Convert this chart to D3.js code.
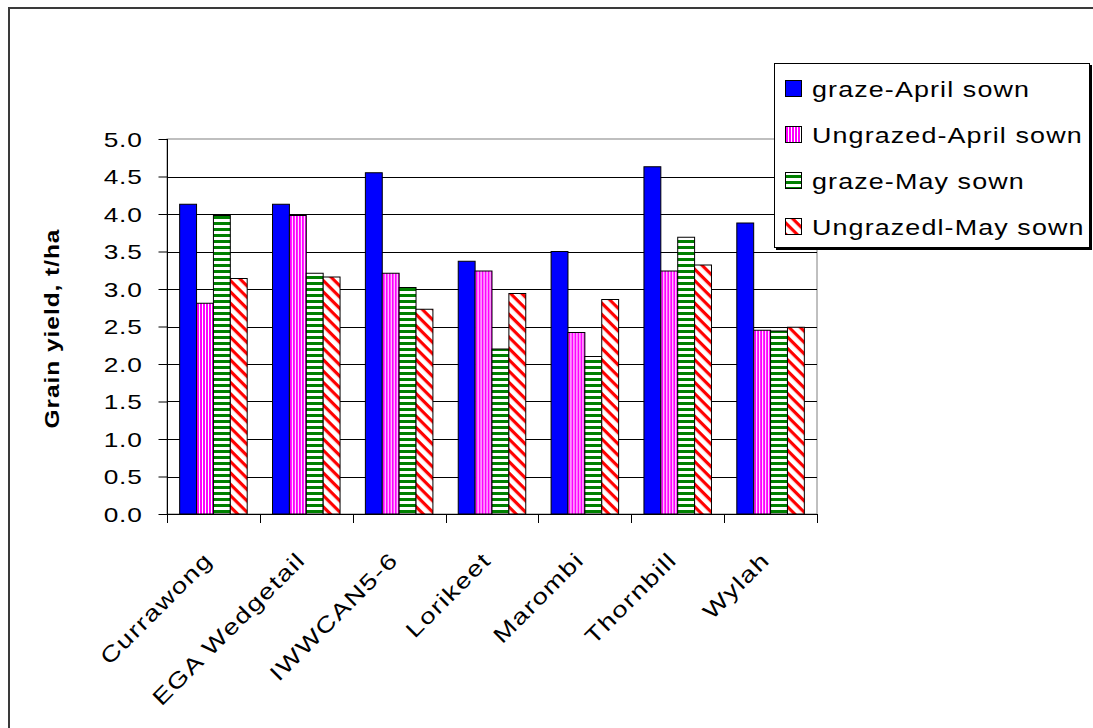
<!DOCTYPE html>
<html>
<head>
<meta charset="utf-8">
<script src="https://cdn.jsdelivr.net/npm/d3@7"></script>
<style>
  html, body { margin: 0; padding: 0; background: #fff; }
  svg { display: block; }
  text { font-family: "Liberation Sans", Arial, sans-serif; fill: #000; }
</style>
</head>
<body>
<svg id="chart" width="1093" height="728"></svg>
<script>
// Grain yield (t/ha) by variety and sowing/grazing treatment
const varieties = ["Currawong", "EGA Wedgetail", "IWWCAN5-6", "Lorikeet", "Marombi", "Thornbill", "Wylah"];
const seriesNames = ["graze-April sown", "Ungrazed-April sown", "graze-May sown", "Ungrazedl-May sown"];
const grazeApril    = [4.13, 4.13, 4.55, 3.37, 3.50, 4.63, 3.88];
const ungrazedApril = [2.81, 3.98, 3.21, 3.24, 2.42, 3.24, 2.45];
const grazeMay      = [3.98, 3.21, 3.02, 2.20, 2.10, 3.69, 2.44];
const ungrazedMay   = [3.14, 3.16, 2.73, 2.94, 2.86, 3.32, 2.49];
const yTicks = [0, 0.5, 1, 1.5, 2, 2.5, 3, 3.5, 4, 4.5, 5];

const seriesValues = [grazeApril, ungrazedApril, grazeMay, ungrazedMay];
const fills = ["#0000FF", "url(#pinkStripes)", "url(#greenStripes)", "url(#redDiag)"];

// lettering: widened sans face
const SX = 1.25;

const svg = d3.select("#chart");

// fill patterns
const defs = svg.append("defs");
const pPink = defs.append("pattern").attr("id", "pinkStripes")
  .attr("patternUnits", "userSpaceOnUse").attr("width", 3).attr("height", 3);
pPink.append("rect").attr("width", 3).attr("height", 3).attr("fill", "#fff");
pPink.append("rect").attr("width", 2).attr("height", 3).attr("fill", "#FF00FF");

const pGreen = defs.append("pattern").attr("id", "greenStripes")
  .attr("patternUnits", "userSpaceOnUse").attr("width", 6).attr("height", 6);
pGreen.append("rect").attr("width", 6).attr("height", 6).attr("fill", "#fff");
pGreen.append("rect").attr("width", 6).attr("height", 3).attr("fill", "#008000");

const pRed = defs.append("pattern").attr("id", "redDiag")
  .attr("patternUnits", "userSpaceOnUse").attr("width", 8).attr("height", 8)
  .attr("patternTransform", "rotate(45)");
pRed.append("rect").attr("width", 8).attr("height", 8).attr("fill", "#fff");
pRed.append("rect").attr("width", 8).attr("height", 3.2).attr("fill", "#FF0000");

// outer chart frame
svg.append("rect").attr("x", 9).attr("y", 8).attr("width", 1200).attr("height", 800)
  .attr("fill", "none").attr("stroke", "#3a3a3a").attr("stroke-width", 2);

const plotLeft = 167, plotRight = 817, plotTop = 139, plotBottom = 514;

const x0 = d3.scaleBand().domain(varieties).range([plotLeft, plotRight]).padding(0);
const x1 = d3.scaleBand().domain(d3.range(seriesNames.length))
  .range([0, x0.bandwidth()]).paddingInner(0).paddingOuter(0.75);
const y = d3.scaleLinear().domain([0, 5]).range([plotBottom, plotTop]);

// plot area border
svg.append("rect").attr("x", plotLeft).attr("y", plotTop)
  .attr("width", plotRight - plotLeft).attr("height", plotBottom - plotTop)
  .attr("fill", "none").attr("stroke", "#808080").attr("stroke-width", 1);

// horizontal gridlines
svg.append("g").selectAll("line").data(yTicks.filter(d => d > 0 && d < 5)).join("line")
  .attr("x1", plotLeft).attr("x2", plotRight)
  .attr("y1", d => Math.round(y(d)) + 0.5).attr("y2", d => Math.round(y(d)) + 0.5)
  .attr("stroke", "#000").attr("stroke-width", 1);

// bars
const groups = svg.append("g").selectAll("g").data(varieties).join("g")
  .attr("transform", d => `translate(${x0(d)},0)`);
groups.selectAll("rect").data((d, i) => seriesValues.map((vals, s) => ({ s, v: vals[i] })))
  .join("rect")
  .attr("x", d => x1(d.s))
  .attr("y", d => y(d.v))
  .attr("width", x1.bandwidth())
  .attr("height", d => y(0) - y(d.v))
  .attr("fill", d => fills[d.s])
  .attr("stroke", "#000").attr("stroke-width", 1);

// y axis
const yAxis = d3.axisLeft(y).tickValues(yTicks).tickFormat(d3.format(".1f"))
  .tickSize(9).tickPadding(0);
const gy = svg.append("g").attr("transform", `translate(${plotLeft + 0.5},0)`).call(yAxis);
gy.selectAll("line").attr("stroke", "#000");
gy.select(".domain").attr("stroke", "#000").attr("d", `M0,${plotTop}V${plotBottom}`);
gy.selectAll(".tick text")
  .attr("x", null).attr("dy", null)
  .attr("transform", `translate(-25,7) scale(${SX},1)`)
  .attr("letter-spacing", 0.6)
  .attr("font-size", 21).attr("fill", "#000")
  .attr("font-family", "Liberation Sans, Arial, sans-serif");

// x axis
const boundaries = varieties.map(v => x0(v)).concat([plotRight]);
svg.append("line").attr("x1", plotLeft).attr("x2", plotRight)
  .attr("y1", plotBottom + 0.5).attr("y2", plotBottom + 0.5).attr("stroke", "#000");
svg.append("g").selectAll("line").data(boundaries).join("line")
  .attr("x1", d => Math.round(d) + 0.5).attr("x2", d => Math.round(d) + 0.5)
  .attr("y1", plotBottom).attr("y2", plotBottom + 9).attr("stroke", "#000");

svg.append("g").selectAll("text").data(varieties).join("text")
  .attr("transform", d => `translate(${x0(d) + x0.bandwidth() / 2 - 5},${plotBottom + 42}) rotate(-45) scale(${SX},1)`)
  .attr("text-anchor", "end")
  .attr("dy", "0.35em")
  .attr("letter-spacing", 1.2)
  .attr("font-size", 22)
  .text(d => d);

// y axis title
svg.append("text")
  .attr("transform", `translate(59,${(plotTop + plotBottom) / 2 + 2}) rotate(-90) scale(${SX},1)`)
  .attr("text-anchor", "middle")
  .attr("letter-spacing", 0.8)
  .attr("font-size", 19.5)
  .attr("font-weight", "bold")
  .text("Grain yield, t/ha");

// legend
const lg = svg.append("g");
lg.append("rect").attr("x", 776).attr("y", 65).attr("width", 316).attr("height", 185)
  .attr("fill", "#000");
lg.append("rect").attr("x", 774.5).attr("y", 63.5).attr("width", 315).attr("height", 184)
  .attr("fill", "#fff").attr("stroke", "#000").attr("stroke-width", 1);
const items = lg.selectAll("g").data(seriesNames).join("g")
  .attr("transform", (d, i) => `translate(0,${89 + i * 46})`);
items.append("rect").attr("x", 785.5).attr("y", -8.5).attr("width", 16).attr("height", 16)
  .attr("fill", (d, i) => fills[i]).attr("stroke", "#000").attr("stroke-width", 1);
items.append("text")
  .attr("transform", `translate(812,0) scale(${SX},1)`)
  .attr("dy", "0.35em")
  .attr("letter-spacing", 0.9)
  .attr("font-size", 21.5).text(d => d);
</script>
</body>
</html>
